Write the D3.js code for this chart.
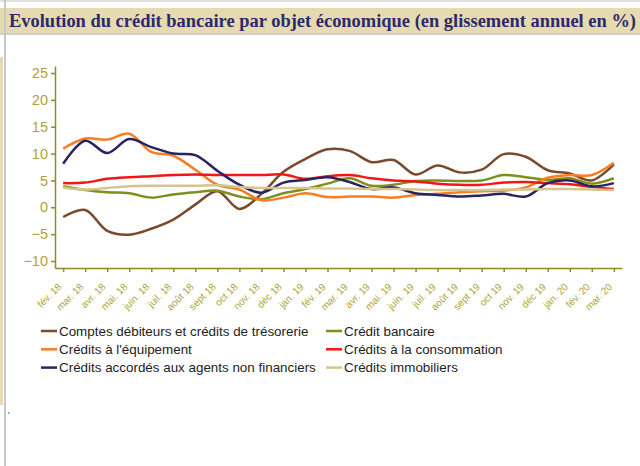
<!DOCTYPE html>
<html lang="fr">
<head>
	<meta charset="utf-8" />
	<title>Evolution du crédit bancaire</title>
	<script src="https://cdnjs.cloudflare.com/ajax/libs/d3/7.8.5/d3.min.js"></script>
	<style>
		body { margin: 0; background: #fff; }
		svg { display: block; }
	</style>
</head>
<body>
	<svg width="640" height="466"></svg>
	<script>
		// months on the x axis
		let months = ["fév. 18", "mar. 18", "avr. 18", "mai. 18", "juin. 18", "juil. 18", "août 18", "sept 18",
			"oct 18", "nov. 18", "déc 18", "jan. 19", "fév. 19", "mar. 19", "avr. 19", "mai. 19", "juin. 19",
			"juil. 19", "août 19", "sept 19", "oct 19", "nov. 19", "déc 19", "jan. 20", "fév. 20", "mar. 20"];

		let yTicks = [-10, -5, 0, 5, 10, 15, 20, 25];

		// values (% year on year)
		let comptesDebiteurs = [-1.8, -0.5, -4.4, -5.1, -4.0, -2.3, 0.5, 3.0, -0.3, 2.5, 6.6, 9.0, 10.8, 10.5, 8.4, 8.8, 6.1, 7.8, 6.5, 7.0, 9.9, 9.4, 6.9, 6.3, 5.0, 8.0];
		let creditBancaire = [3.9, 3.2, 2.8, 2.6, 1.8, 2.4, 2.8, 3.1, 2.0, 1.5, 2.6, 3.4, 4.4, 5.4, 4.0, 4.2, 4.9, 5.0, 4.9, 5.0, 6.0, 5.6, 5.1, 5.4, 4.4, 5.4];
		let creditsEquipement = [10.9, 12.8, 12.6, 13.7, 10.3, 9.6, 7.0, 4.2, 3.3, 1.3, 1.8, 2.6, 1.9, 2.0, 2.0, 1.8, 2.3, 2.5, 2.8, 3.0, 3.1, 3.7, 5.5, 6.0, 6.0, 8.3];
		let creditsConsommation = [4.5, 4.6, 5.3, 5.6, 5.8, 6.0, 6.1, 6.0, 6.0, 6.0, 6.1, 5.3, 5.8, 6.0, 5.4, 5.0, 4.8, 4.4, 4.2, 4.2, 4.6, 4.7, 4.5, 4.3, 3.8, 3.4];
		let agentsNonFinanciers = [8.1, 12.4, 10.1, 12.7, 11.2, 10.0, 9.7, 6.8, 4.2, 2.7, 4.6, 5.1, 5.6, 4.7, 3.4, 3.7, 2.6, 2.3, 2.0, 2.2, 2.5, 2.0, 4.5, 5.0, 3.9, 4.5];
		let creditsImmobiliers = [3.7, 3.3, 3.6, 3.9, 4.0, 4.0, 4.0, 4.1, 3.8, 3.6, 3.6, 3.6, 3.5, 3.5, 3.4, 3.4, 3.3, 3.2, 3.2, 3.2, 3.3, 3.3, 3.4, 3.4, 3.3, 3.2];

		let series = [
			{ name: "Comptes débiteurs et crédits de trésorerie", values: comptesDebiteurs, color: "#7a4a2c" },
			{ name: "Crédit bancaire", values: creditBancaire, color: "#7f8f1e" },
			{ name: "Crédits à l'équipement", values: creditsEquipement, color: "#fa7d22" },
			{ name: "Crédits à la consommation", values: creditsConsommation, color: "#f21616" },
			{ name: "Crédits accordés aux agents non financiers", values: agentsNonFinanciers, color: "#2a2360" },
			{ name: "Crédits immobiliers", values: creditsImmobiliers, color: "#d6c48e" }
		];

		let svg = d3.select("svg");

		// page frame: title bar and left strip
		svg.append("rect").attr("x", 0).attr("y", 0).attr("width", 640).attr("height", 2).attr("fill", "#e2e2e2");
		svg.append("rect").attr("x", 0).attr("y", 8).attr("width", 4).attr("height", 25).attr("fill", "#e6dab0");
		svg.append("rect").attr("x", 6).attr("y", 8).attr("width", 634).attr("height", 25).attr("fill", "#e6dab0");
		svg.append("rect").attr("x", 0).attr("y", 33).attr("width", 640).attr("height", 2).attr("fill", "#cfcfcf");
		svg.append("rect").attr("x", 4).attr("y", 0).attr("width", 2).attr("height", 466).attr("fill", "#c8c8c8");
		svg.append("rect").attr("x", 0).attr("y", 57).attr("width", 3).attr("height", 348).attr("fill", "#e6dab0");

		svg.append("text")
			.attr("x", 9)
			.attr("y", 27)
			.attr("font-family", "Liberation Serif, serif")
			.attr("font-weight", "bold")
			.attr("font-size", 18.5)
			.attr("fill", "#2c2a6c")
			.attr("textLength", 627)
			.attr("lengthAdjust", "spacingAndGlyphs")
			.text("Evolution du crédit bancaire par objet économique (en glissement annuel en %)");

		svg.append("text")
			.attr("x", 8)
			.attr("y", 418)
			.attr("font-family", "Liberation Sans, sans-serif")
			.attr("font-size", 9)
			.attr("fill", "#333")
			.text("'");

		let x = d3.scalePoint()
			.domain(months)
			.range([55, 622])
			.padding(0.37);

		let y = d3.scaleLinear()
			.domain([-11.3, 26.3])
			.range([268, 66]);

		let axisColor = "#8e8c22";
		let labelColor = "#aca43a";

		let yAxis = svg.append("g")
			.attr("transform", "translate(55,0)")
			.call(d3.axisLeft(y).tickValues(yTicks).tickSize(4).tickSizeOuter(0).tickPadding(3));
		yAxis.selectAll("path, line").attr("stroke", axisColor).attr("stroke-width", 1.5);
		yAxis.selectAll("text")
			.attr("fill", labelColor)
			.attr("font-family", "Liberation Sans, Arial, sans-serif")
			.attr("font-size", 14.5);

		let xAxis = svg.append("g")
			.attr("transform", "translate(0,268)")
			.call(d3.axisBottom(x).tickSize(4).tickSizeOuter(0));
		xAxis.selectAll("path, line").attr("stroke", axisColor).attr("stroke-width", 1.5);
		xAxis.selectAll("text")
			.attr("fill", labelColor)
			.attr("font-family", "Liberation Sans, Arial, sans-serif")
			.attr("font-size", 10)
			.attr("text-anchor", "end")
			.attr("x", 0)
			.attr("y", 0)
			.attr("dy", "0.35em")
			.attr("transform", "translate(-4,17) rotate(-45)");

		let line = d3.line()
			.x((d, i) => x(months[i]))
			.y(d => y(d))
			.curve(d3.curveCatmullRom.alpha(0.5));

		svg.selectAll("path.serie")
			.data(series)
			.enter()
			.append("path")
			.attr("class", "serie")
			.attr("fill", "none")
			.attr("stroke", d => d.color)
			.attr("stroke-width", 2.5)
			.attr("d", d => line(d.values));

		// legend, two columns
		let legend = svg.selectAll("g.legend")
			.data(series)
			.enter()
			.append("g")
			.attr("class", "legend")
			.attr("transform", (d, i) => "translate(" + (i % 2 == 0 ? 41 : 326) + "," + (331 + Math.floor(i / 2) * 18.3) + ")");
		legend.append("line")
			.attr("x1", 0)
			.attr("x2", 16)
			.attr("stroke", d => d.color)
			.attr("stroke-width", 2.5);
		legend.append("text")
			.attr("x", 18)
			.attr("y", 4.5)
			.attr("font-family", "Liberation Sans, Arial, sans-serif")
			.attr("font-size", 13.4)
			.attr("fill", "#222")
			.text(d => d.name);
	</script>
</body>
</html>
